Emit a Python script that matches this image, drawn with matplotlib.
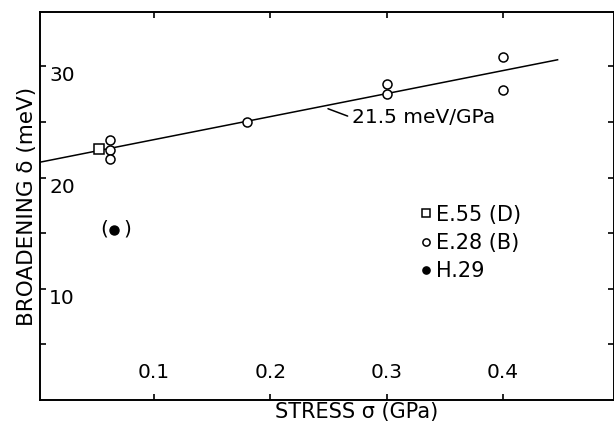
import numpy as np
import matplotlib
matplotlib.use("Agg")
import matplotlib.pyplot as plt

# data (stress in GPa, broadening in meV)
e55_stress = [0.053]
e55_broad = [22.55]

e28_stress = [0.062, 0.062, 0.062, 0.18, 0.30, 0.30, 0.40, 0.40]
e28_broad = [23.4, 22.5, 21.65, 25.05, 28.45, 27.55, 30.85, 27.85]

h29_stress = [0.066]
h29_broad = [15.3]

# fitted line
fit_x = [0.0, 0.447]
fit_intercept = 21.35
fit_slope = 20.7

x_ticks = [0.1, 0.2, 0.3, 0.4]
x_ticklabels = ["0.1", "0.2", "0.3", "0.4"]
y_ticks = [5, 10, 15, 20, 25, 30]
y_ticklabels = ["", "10", "", "20", "", "30"]

plt.rcParams['font.family'] = ['DejaVu Sans']
fs = 14.5

fig = plt.figure(figsize=(6.14, 4.23), dpi=100)
ax = fig.add_axes([40/614, 1 - 400/423, 574/614, 388/423])

fx = np.array(fit_x)
ax.plot(fx, fit_intercept + fit_slope*fx, color='k', lw=1.1)

ax.plot(e55_stress, e55_broad, ls='none', marker='s', ms=6.5, mfc='white',
        mec='k', mew=1.1, label="E.55 (D)", zorder=3)
ax.plot(e28_stress, e28_broad, ls='none', marker='o', ms=6.5, mfc='white',
        mec='k', mew=1.1, label="E.28 (B)", zorder=3)
ax.plot(h29_stress, h29_broad, ls='none', marker='o', ms=6.5, mfc='k',
        mec='k', label="H.29", zorder=3)

# brackets round the H.29 point
for p in range(len(h29_stress)):
    ax.annotate("(", (h29_stress[p], h29_broad[p]), xytext=(-7.5, 0.5),
                textcoords='offset points', ha='center', va='center', fontsize=fs)
    ax.annotate(")", (h29_stress[p], h29_broad[p]), xytext=(9, 0.5),
                textcoords='offset points', ha='center', va='center', fontsize=fs)

ax.annotate("21.5 meV/GPa", xy=(0.2496, 26.2), xytext=(0.27, 25.4),
            ha='left', va='center', fontsize=fs,
            arrowprops=dict(arrowstyle='-', lw=1.1, color='k',
                            relpos=(0, 0.5), shrinkA=1, shrinkB=0))

ax.set_xlim(0.002, 0.4955)
ax.set_ylim(0, 34.9)

ax.set_xticks(x_ticks)
ax.set_xticklabels(x_ticklabels, fontsize=fs, va='bottom')
ax.set_yticks(y_ticks)
ax.set_yticklabels(y_ticklabels, fontsize=fs, ha='left', va='top')
ax.tick_params(axis='x', direction='in', length=4, width=1.2, pad=-13,
               top=True)
ax.tick_params(axis='y', direction='in', length=4, width=1.2, pad=-6.5,
               right=True)

for s in ax.spines.values():
    s.set_linewidth(1.4)

ax.set_xlabel("STRESS σ (GPa)", fontsize=15)
ax.xaxis.set_label_coords(0.552, -0.056, transform=ax.transAxes)
ax.xaxis.label.set_va('bottom')
ax.set_ylabel("BROADENING δ (meV)", fontsize=15.5, labelpad=2)

ax.legend(loc='upper left', bbox_to_anchor=(0.643, 0.53), frameon=False,
          fontsize=15, handlelength=0.6, handletextpad=0.2, borderpad=0,
          labelspacing=0.4, markerscale=0.8)

fig.savefig('out.png', dpi=100)
